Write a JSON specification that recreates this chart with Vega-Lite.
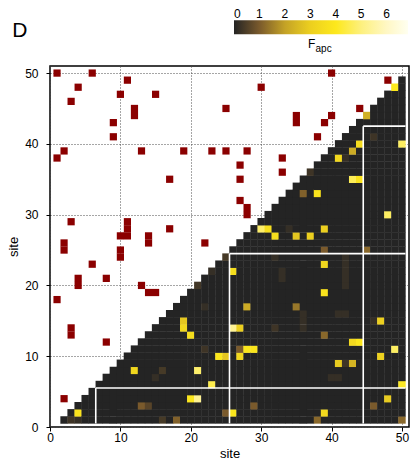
{
  "$schema": "https://vega.github.io/schema/vega-lite/v6.json",
  "autosize": "none",
  "width": 359,
  "height": 361,
  "padding": {"left": 50, "top": 66, "right": 1, "bottom": 37},
  "title": {"text": "D", "anchor": "start", "frame": "group", "fontSize": 21, "fontWeight": "normal", "font": "Liberation Sans", "dx": -37.7, "offset": 0, "dy": 20.5, "color": "black"},
  "config": {
    "view": {"stroke": "black", "strokeWidth": 1.5},
    "font": "Liberation Sans",
    "axis": {"labelFont": "Liberation Sans", "titleFont": "Liberation Sans", "labelColor": "black", "titleColor": "black", "tickColor": "black", "labelFontSize": 12, "titleFontSize": 13, "titleFontWeight": "normal", "domain": false, "grid": true, "gridDash": [1, 2], "gridColor": "#4d4d4d", "gridWidth": 1, "tickSize": 4, "labelFlush": false}
  },
  "layer": [
    {
      "data": {"values": "i,j,v\n2,1,0\n3,1,0.3\n3,2,0\n4,1,0.2\n4,2,3.8\n4,3,0\n5,1,0\n5,2,0\n5,3,0\n5,4,0\n6,1,0\n6,2,0\n6,3,0\n6,4,0\n6,5,0\n7,1,0\n7,2,0\n7,3,0\n7,4,0\n7,5,0\n7,6,0\n8,1,0\n8,2,0\n8,3,0\n8,4,0\n8,5,0\n8,6,0\n8,7,0\n9,1,0\n9,2,0\n9,3,0\n9,4,0\n9,5,0\n9,6,0\n9,7,0\n9,8,0\n10,1,0\n10,2,0\n10,3,0\n10,4,0\n10,5,0\n10,6,0\n10,7,0\n10,8,0\n10,9,0\n11,1,0\n11,2,0\n11,3,0\n11,4,0\n11,5,0\n11,6,0\n11,7,0\n11,8,0\n11,9,0\n11,10,0\n12,1,0\n12,2,0\n12,3,0\n12,4,0\n12,5,0\n12,6,0\n12,7,0\n12,8,3.3\n12,9,0\n12,10,0\n12,11,0\n13,1,0\n13,2,0\n13,3,1.0\n13,4,0\n13,5,0\n13,6,0\n13,7,0\n13,8,0\n13,9,0\n13,10,0\n13,11,0\n13,12,0\n14,1,0\n14,2,0\n14,3,0.6\n14,4,0\n14,5,0\n14,6,0\n14,7,0\n14,8,0\n14,9,0\n14,10,0\n14,11,0\n14,12,0\n14,13,0\n15,1,0\n15,2,0\n15,3,0\n15,4,0\n15,5,0\n15,6,0\n15,7,0.2\n15,8,0\n15,9,0\n15,10,0\n15,11,0\n15,12,0\n15,13,0\n15,14,0\n16,1,0.4\n16,2,0\n16,3,0\n16,4,0\n16,5,0\n16,6,0\n16,7,0\n16,8,0.4\n16,9,0\n16,10,0\n16,11,0\n16,12,0\n16,13,0\n16,14,0\n16,15,0\n17,1,0\n17,2,0\n17,3,0\n17,4,0\n17,5,0\n17,6,0\n17,7,0\n17,8,0\n17,9,0\n17,10,0\n17,11,0\n17,12,0\n17,13,0\n17,14,0\n17,15,0\n17,16,0\n18,1,1.1\n18,2,0\n18,3,0\n18,4,0\n18,5,0\n18,6,0\n18,7,0\n18,8,0\n18,9,0\n18,10,0\n18,11,0\n18,12,0\n18,13,0\n18,14,0\n18,15,0\n18,16,0\n18,17,0\n19,1,0\n19,2,0\n19,3,0\n19,4,0\n19,5,0\n19,6,0\n19,7,0\n19,8,0\n19,9,0\n19,10,0\n19,11,0\n19,12,0\n19,13,0\n19,14,3.3\n19,15,2.8\n19,16,0\n19,17,0\n19,18,0\n20,1,0\n20,2,0\n20,3,0\n20,4,3.9\n20,5,0\n20,6,0\n20,7,0\n20,8,0\n20,9,0\n20,10,0\n20,11,0\n20,12,0\n20,13,3.6\n20,14,0\n20,15,0\n20,16,0\n20,17,0\n20,18,0\n20,19,0\n21,1,0\n21,2,0\n21,3,0\n21,4,5.3\n21,5,0\n21,6,0\n21,7,0\n21,8,4.8\n21,9,0\n21,10,0\n21,11,0\n21,12,0\n21,13,0\n21,14,0\n21,15,0\n21,16,0\n21,17,0\n21,18,0\n21,19,0\n21,20,0.35\n22,1,0\n22,2,0\n22,3,0\n22,4,0\n22,5,0\n22,6,0\n22,7,0\n22,8,0\n22,9,0\n22,10,0\n22,11,0.3\n22,12,0\n22,13,0\n22,14,0\n22,15,0\n22,16,0\n22,17,0.2\n22,18,0\n22,19,0\n22,20,0\n22,21,0\n23,1,0\n23,2,0\n23,3,0\n23,4,0\n23,5,0\n23,6,4.5\n23,7,0\n23,8,0\n23,9,0\n23,10,0\n23,11,0\n23,12,0\n23,13,0\n23,14,0\n23,15,0\n23,16,0\n23,17,0\n23,18,0\n23,19,0\n23,20,0\n23,21,0\n23,22,0.2\n24,1,0\n24,2,0\n24,3,0\n24,4,0\n24,5,0\n24,6,0\n24,7,0\n24,8,0\n24,9,0\n24,10,3.9\n24,11,0\n24,12,0\n24,13,0\n24,14,0\n24,15,0\n24,16,0\n24,17,0\n24,18,0\n24,19,0\n24,20,0\n24,21,0\n24,22,0\n24,23,0\n25,1,0\n25,2,1.0\n25,3,0\n25,4,0\n25,5,0\n25,6,0\n25,7,0\n25,8,0\n25,9,0\n25,10,2.8\n25,11,0\n25,12,0\n25,13,0\n25,14,0\n25,15,0\n25,16,0\n25,17,0\n25,18,0\n25,19,0\n25,20,0\n25,21,0\n25,22,0\n25,23,0\n25,24,0.4\n26,1,0\n26,2,3.9\n26,3,0\n26,4,0\n26,5,0\n26,6,0\n26,7,0\n26,8,0\n26,9,0\n26,10,0\n26,11,0\n26,12,0\n26,13,0\n26,14,5.3\n26,15,0\n26,16,0\n26,17,0\n26,18,0\n26,19,0\n26,20,0\n26,21,0\n26,22,3.6\n26,23,0\n26,24,0\n26,25,0\n27,1,0\n27,2,0\n27,3,0\n27,4,0\n27,5,0\n27,6,0\n27,7,0\n27,8,0\n27,9,0\n27,10,3.4\n27,11,1.0\n27,12,0\n27,13,0\n27,14,3.0\n27,15,0\n27,16,0\n27,17,0\n27,18,0\n27,19,0\n27,20,0\n27,21,0\n27,22,0\n27,23,0\n27,24,0\n27,25,0\n27,26,0\n28,1,0\n28,2,0\n28,3,0\n28,4,0\n28,5,0\n28,6,0\n28,7,0\n28,8,0\n28,9,0\n28,10,0\n28,11,3.9\n28,12,0\n28,13,0\n28,14,0\n28,15,0\n28,16,0\n28,17,2.2\n28,18,0\n28,19,0\n28,20,0\n28,21,0\n28,22,0\n28,23,0\n28,24,0\n28,25,0\n28,26,0\n28,27,0\n29,1,0\n29,2,0\n29,3,1.0\n29,4,0\n29,5,0\n29,6,0\n29,7,0\n29,8,0\n29,9,0\n29,10,0\n29,11,3.9\n29,12,0\n29,13,0\n29,14,0\n29,15,0\n29,16,0\n29,17,0\n29,18,0\n29,19,0\n29,20,0\n29,21,0\n29,22,0\n29,23,0\n29,24,0\n29,25,0\n29,26,0\n29,27,0\n29,28,0\n30,1,0\n30,2,0\n30,3,0\n30,4,0\n30,5,0\n30,6,0\n30,7,0\n30,8,0\n30,9,0\n30,10,0\n30,11,0\n30,12,0\n30,13,0\n30,14,0\n30,15,0\n30,16,0\n30,17,0\n30,18,0\n30,19,0\n30,20,0\n30,21,0\n30,22,0\n30,23,0\n30,24,0\n30,25,0\n30,26,0\n30,27,0\n30,28,4.8\n30,29,0\n31,1,0\n31,2,0\n31,3,0\n31,4,0\n31,5,0\n31,6,0\n31,7,0\n31,8,0\n31,9,0\n31,10,0\n31,11,0\n31,12,0\n31,13,0\n31,14,0\n31,15,0\n31,16,0\n31,17,0\n31,18,0\n31,19,0\n31,20,0\n31,21,0\n31,22,0\n31,23,0\n31,24,0\n31,25,0\n31,26,0\n31,27,0\n31,28,3.6\n31,29,0\n31,30,0\n32,1,0\n32,2,0\n32,3,0\n32,4,0\n32,5,0\n32,6,0\n32,7,0\n32,8,0\n32,9,0\n32,10,0\n32,11,0\n32,12,0\n32,13,0\n32,14,0.3\n32,15,0\n32,16,0\n32,17,0\n32,18,0\n32,19,0\n32,20,0\n32,21,0\n32,22,0\n32,23,0\n32,24,0.2\n32,25,0\n32,26,0\n32,27,3.6\n32,28,0\n32,29,0\n32,30,0\n32,31,0\n33,1,0\n33,2,0\n33,3,0\n33,4,0\n33,5,0\n33,6,0\n33,7,0\n33,8,0\n33,9,0\n33,10,0\n33,11,0\n33,12,0\n33,13,0\n33,14,0\n33,15,0\n33,16,0\n33,17,0\n33,18,0\n33,19,0\n33,20,0\n33,21,0.2\n33,22,0.2\n33,23,0\n33,24,0\n33,25,0\n33,26,0\n33,27,0\n33,28,0\n33,29,0\n33,30,0\n33,31,0\n33,32,0\n34,1,0\n34,2,0\n34,3,0\n34,4,0\n34,5,0\n34,6,0\n34,7,0\n34,8,0\n34,9,0\n34,10,0\n34,11,0\n34,12,0\n34,13,0\n34,14,0\n34,15,0\n34,16,0\n34,17,0\n34,18,0\n34,19,0\n34,20,0\n34,21,0\n34,22,0\n34,23,0\n34,24,0\n34,25,0\n34,26,0\n34,27,0\n34,28,0.2\n34,29,0\n34,30,0\n34,31,0\n34,32,0\n34,33,0\n35,1,0\n35,2,0\n35,3,0\n35,4,0\n35,5,0\n35,6,0\n35,7,0\n35,8,0\n35,9,0\n35,10,0\n35,11,0\n35,12,0\n35,13,0\n35,14,0\n35,15,0\n35,16,0\n35,17,1.4\n35,18,0\n35,19,0\n35,20,0\n35,21,0\n35,22,0\n35,23,0\n35,24,0\n35,25,0\n35,26,0\n35,27,2.8\n35,28,0\n35,29,0\n35,30,0\n35,31,0\n35,32,0\n35,33,0\n35,34,0\n36,1,0\n36,2,0\n36,3,0\n36,4,0\n36,5,0\n36,6,0\n36,7,0\n36,8,0\n36,9,0\n36,10,0\n36,11,0\n36,12,0\n36,13,0\n36,14,0.2\n36,15,0.2\n36,16,0.2\n36,17,0\n36,18,0\n36,19,0\n36,20,0\n36,21,0\n36,22,0\n36,23,0\n36,24,0\n36,25,0\n36,26,0\n36,27,0\n36,28,0\n36,29,0\n36,30,0\n36,31,0\n36,32,0\n36,33,1.1\n36,34,0\n36,35,0\n37,1,0\n37,2,0\n37,3,0\n37,4,0\n37,5,0\n37,6,0\n37,7,0\n37,8,0\n37,9,0\n37,10,0\n37,11,0\n37,12,0\n37,13,0\n37,14,0\n37,15,0\n37,16,0\n37,17,0\n37,18,0\n37,19,0\n37,20,0\n37,21,0\n37,22,0\n37,23,0\n37,24,0\n37,25,0\n37,26,0\n37,27,3.0\n37,28,0\n37,29,0\n37,30,0\n37,31,0\n37,32,0\n37,33,0\n37,34,0\n37,35,0\n37,36,0.3\n38,1,1.2\n38,2,0\n38,3,0\n38,4,0\n38,5,0\n38,6,0\n38,7,0\n38,8,0\n38,9,0\n38,10,0\n38,11,0\n38,12,0\n38,13,0\n38,14,0\n38,15,0\n38,16,0\n38,17,0\n38,18,0\n38,19,0\n38,20,0\n38,21,0\n38,22,0\n38,23,0\n38,24,0\n38,25,0\n38,26,0\n38,27,0\n38,28,0\n38,29,0\n38,30,0\n38,31,0\n38,32,0\n38,33,3.8\n38,34,0\n38,35,0\n38,36,0\n38,37,0\n39,1,0\n39,2,3.4\n39,3,0\n39,4,0\n39,5,0\n39,6,0\n39,7,0\n39,8,0\n39,9,0\n39,10,0\n39,11,0\n39,12,0\n39,13,1.2\n39,14,0\n39,15,0\n39,16,0\n39,17,0\n39,18,0\n39,19,3.8\n39,20,0\n39,21,0\n39,22,0\n39,23,3.3\n39,24,0\n39,25,1.0\n39,26,0\n39,27,0\n39,28,3.0\n39,29,0\n39,30,0\n39,31,0\n39,32,0\n39,33,0\n39,34,0\n39,35,0\n39,36,0\n39,37,0\n39,38,0\n40,1,0\n40,2,0\n40,3,0\n40,4,0\n40,5,0\n40,6,0\n40,7,0.2\n40,8,0\n40,9,0\n40,10,0\n40,11,0\n40,12,0\n40,13,0\n40,14,0\n40,15,0\n40,16,0\n40,17,0\n40,18,0\n40,19,0\n40,20,0\n40,21,0\n40,22,0\n40,23,0\n40,24,0\n40,25,0\n40,26,0\n40,27,0\n40,28,0\n40,29,0\n40,30,0\n40,31,0\n40,32,0\n40,33,0\n40,34,0\n40,35,0\n40,36,0\n40,37,0\n40,38,0\n40,39,0\n41,1,0\n41,2,0\n41,3,0\n41,4,0\n41,5,0\n41,6,0\n41,7,0.2\n41,8,0\n41,9,2.9\n41,10,0\n41,11,0\n41,12,0\n41,13,0\n41,14,0\n41,15,0\n41,16,0.2\n41,17,0\n41,18,0\n41,19,0\n41,20,0\n41,21,0\n41,22,0\n41,23,0\n41,24,0\n41,25,0\n41,26,0\n41,27,0\n41,28,0\n41,29,0\n41,30,0\n41,31,0\n41,32,0\n41,33,0\n41,34,0\n41,35,0\n41,36,0\n41,37,0\n41,38,3.4\n41,39,0\n41,40,0\n42,1,0\n42,2,0\n42,3,0\n42,4,0\n42,5,0\n42,6,0\n42,7,0\n42,8,0\n42,9,0.3\n42,10,0\n42,11,0\n42,12,0\n42,13,0\n42,14,0\n42,15,0\n42,16,0.2\n42,17,0\n42,18,0\n42,19,0\n42,20,0.2\n42,21,0.2\n42,22,0.2\n42,23,0.2\n42,24,0.2\n42,25,0\n42,26,0\n42,27,0\n42,28,0\n42,29,0\n42,30,0\n42,31,0\n42,32,0\n42,33,0\n42,34,0\n42,35,0\n42,36,0\n42,37,0\n42,38,0.2\n42,39,0\n42,40,0\n42,41,0\n43,1,0\n43,2,0\n43,3,0\n43,4,0\n43,5,0\n43,6,0\n43,7,0\n43,8,0\n43,9,2.4\n43,10,0\n43,11,0\n43,12,3.4\n43,13,0\n43,14,0\n43,15,0\n43,16,0\n43,17,0\n43,18,0\n43,19,0\n43,20,0\n43,21,0\n43,22,0\n43,23,0\n43,24,0\n43,25,0\n43,26,0\n43,27,0\n43,28,0\n43,29,0\n43,30,0\n43,31,0\n43,32,0\n43,33,0\n43,34,0\n43,35,4.6\n43,36,0\n43,37,0\n43,38,0\n43,39,2.2\n43,40,0\n43,41,0\n43,42,0\n44,1,0\n44,2,0\n44,3,0\n44,4,0\n44,5,0\n44,6,0\n44,7,0\n44,8,0\n44,9,0\n44,10,0\n44,11,0\n44,12,3.9\n44,13,0\n44,14,0\n44,15,0\n44,16,0\n44,17,0\n44,18,0\n44,19,0\n44,20,0\n44,21,0\n44,22,0\n44,23,0\n44,24,0\n44,25,0\n44,26,0\n44,27,0\n44,28,0\n44,29,0\n44,30,0\n44,31,0\n44,32,0\n44,33,0\n44,34,0\n44,35,3.8\n44,36,0\n44,37,0\n44,38,0\n44,39,0\n44,40,3.5\n44,41,0\n44,42,0\n44,43,0\n45,1,0\n45,2,0\n45,3,0\n45,4,0\n45,5,0\n45,6,0\n45,7,0\n45,8,0\n45,9,0\n45,10,0\n45,11,0\n45,12,0\n45,13,0\n45,14,0\n45,15,0\n45,16,0\n45,17,0\n45,18,0\n45,19,0\n45,20,0\n45,21,0\n45,22,0\n45,23,0\n45,24,0\n45,25,1.2\n45,26,0\n45,27,0\n45,28,0\n45,29,0\n45,30,0\n45,31,0\n45,32,0\n45,33,0\n45,34,0\n45,35,0\n45,36,0\n45,37,0\n45,38,0\n45,39,0\n45,40,0\n45,41,0\n45,42,0\n45,43,0\n45,44,2.3\n46,1,0\n46,2,0\n46,3,1.0\n46,4,0\n46,5,0\n46,6,0\n46,7,0\n46,8,0\n46,9,0\n46,10,0\n46,11,0\n46,12,0\n46,13,0\n46,14,0\n46,15,0.2\n46,16,0\n46,17,0\n46,18,0\n46,19,0\n46,20,0\n46,21,0\n46,22,0\n46,23,0\n46,24,0\n46,25,0\n46,26,0\n46,27,0\n46,28,0\n46,29,0\n46,30,0\n46,31,0\n46,32,0\n46,33,0\n46,34,0\n46,35,0\n46,36,0\n46,37,0\n46,38,0\n46,39,0\n46,40,0\n46,41,0.3\n46,42,0\n46,43,0\n46,44,0\n46,45,0\n47,1,0\n47,2,0\n47,3,0\n47,4,0\n47,5,0\n47,6,0\n47,7,0\n47,8,0\n47,9,0\n47,10,3.1\n47,11,0\n47,12,0\n47,13,0\n47,14,0\n47,15,3.0\n47,16,0\n47,17,0\n47,18,0\n47,19,0\n47,20,0\n47,21,0\n47,22,0\n47,23,0\n47,24,0\n47,25,0\n47,26,0\n47,27,0\n47,28,0\n47,29,0\n47,30,0\n47,31,0\n47,32,0\n47,33,0\n47,34,0\n47,35,0\n47,36,0\n47,37,0\n47,38,0\n47,39,0\n47,40,0\n47,41,0\n47,42,0\n47,43,0\n47,44,0\n47,45,0\n47,46,0\n48,1,0\n48,2,0\n48,3,0\n48,4,2.9\n48,5,0\n48,6,0\n48,7,0\n48,8,0\n48,9,0\n48,10,0\n48,11,0\n48,12,0\n48,13,0\n48,14,0\n48,15,0\n48,16,0\n48,17,0\n48,18,0\n48,19,0\n48,20,0\n48,21,0\n48,22,0\n48,23,0\n48,24,0\n48,25,0\n48,26,0\n48,27,0\n48,28,0\n48,29,0\n48,30,4.7\n48,31,0\n48,32,0\n48,33,0\n48,34,0\n48,35,0\n48,36,0\n48,37,0\n48,38,0\n48,39,0\n48,40,0\n48,41,0\n48,42,0\n48,43,0\n48,44,0\n48,45,0\n48,46,0\n48,47,0\n49,1,0\n49,2,0\n49,3,0\n49,4,0\n49,5,0\n49,6,0\n49,7,0\n49,8,0\n49,9,0\n49,10,0\n49,11,4.7\n49,12,0\n49,13,0\n49,14,0\n49,15,0\n49,16,0\n49,17,0\n49,18,0\n49,19,0\n49,20,0\n49,21,0\n49,22,0\n49,23,0\n49,24,0\n49,25,0\n49,26,0\n49,27,0\n49,28,0\n49,29,0\n49,30,0\n49,31,0\n49,32,0\n49,33,0\n49,34,0\n49,35,0\n49,36,0\n49,37,0\n49,38,0\n49,39,0\n49,40,0\n49,41,0\n49,42,0\n49,43,0\n49,44,0\n49,45,0\n49,46,0\n49,47,0\n49,48,4.0\n50,1,1.2\n50,2,0\n50,3,0\n50,4,0\n50,5,0\n50,6,4.1\n50,7,0\n50,8,0\n50,9,0\n50,10,0\n50,11,0\n50,12,0\n50,13,0\n50,14,0\n50,15,0\n50,16,0\n50,17,0\n50,18,0\n50,19,0\n50,20,0\n50,21,0\n50,22,0\n50,23,0\n50,24,0\n50,25,0\n50,26,0\n50,27,0\n50,28,0\n50,29,0\n50,30,0\n50,31,0\n50,32,0\n50,33,0\n50,34,0\n50,35,0\n50,36,0\n50,37,0\n50,38,0\n50,39,0\n50,40,4.7\n50,41,0\n50,42,0\n50,43,0\n50,44,0\n50,45,0\n50,46,0\n50,47,0\n50,48,0\n50,49,0", "format": {"type": "csv", "parse": {"i": "number", "j": "number", "v": "number"}}},
      "mark": {"type": "rect", "xOffset": -3.72, "x2Offset": 3.72, "yOffset": 3.74, "y2Offset": -3.74},
      "encoding": {
        "x": {"field": "i", "type": "quantitative", "scale": {"domain": [0, 51], "nice": false, "zero": false}, "axis": {"values": [0, 10, 20, 30, 40, 50], "title": "site", "labelPadding": 1, "titlePadding": 4}},
        "x2": {"field": "i"},
        "y": {"field": "j", "type": "quantitative", "scale": {"domain": [0, 51], "nice": false, "zero": false}, "axis": {"values": [0, 10, 20, 30, 40, 50], "title": "site", "labelPadding": 8, "titlePadding": 4}},
        "y2": {"field": "j"},
        "color": {"field": "v", "type": "quantitative",
          "scale": {"domain": [0, 1, 2, 3, 4, 5, 6, 6.84], "range": ["#242424", "#7a5a2c", "#c4a226", "#eccf1f", "#fde81c", "#fdf07e", "#fff7c4", "#fffff0"], "interpolate": "rgb"},
          "legend": {"orient": "none", "legendX": 184, "legendY": -45.7, "direction": "horizontal", "gradientLength": 174, "gradientThickness": 14, "gradientStrokeWidth": 0, "values": [0, 1, 2, 3, 4, 5, 6], "labelOffset": -25, "labelFontSize": 12, "labelFont": "Liberation Sans", "labelColor": "black", "title": null, "padding": 0}}
      }
    },
    {
      "data": {"values": [
        {"i": 1, "j": 50}, {"i": 6, "j": 50}, {"i": 11, "j": 49}, {"i": 4, "j": 48}, {"i": 10, "j": 47}, {"i": 15, "j": 47}, {"i": 3, "j": 46}, {"i": 12, "j": 45}, {"i": 12, "j": 44}, {"i": 9, "j": 43}, {"i": 9, "j": 41}, {"i": 2, "j": 39}, {"i": 1, "j": 38}, {"i": 13, "j": 39}, {"i": 17, "j": 35},
        {"i": 30, "j": 48}, {"i": 25, "j": 45}, {"i": 19, "j": 39}, {"i": 23, "j": 39}, {"i": 25, "j": 39}, {"i": 28, "j": 39}, {"i": 33, "j": 38}, {"i": 27, "j": 37}, {"i": 33, "j": 36}, {"i": 27, "j": 35},
        {"i": 40, "j": 50}, {"i": 48, "j": 49}, {"i": 44, "j": 45}, {"i": 35, "j": 44}, {"i": 35, "j": 43}, {"i": 40, "j": 44}, {"i": 39, "j": 43}, {"i": 38, "j": 41},
        {"i": 3, "j": 29}, {"i": 11, "j": 29}, {"i": 11, "j": 28}, {"i": 11, "j": 27}, {"i": 10, "j": 27}, {"i": 17, "j": 28}, {"i": 2, "j": 26}, {"i": 2, "j": 25}, {"i": 14, "j": 27}, {"i": 14, "j": 26}, {"i": 10, "j": 25}, {"i": 10, "j": 24}, {"i": 6, "j": 23}, {"i": 4, "j": 21}, {"i": 4, "j": 20}, {"i": 8, "j": 21}, {"i": 13, "j": 20}, {"i": 14, "j": 19}, {"i": 15, "j": 19}, {"i": 1, "j": 18},
        {"i": 27, "j": 32}, {"i": 28, "j": 31}, {"i": 28, "j": 30}, {"i": 22, "j": 26}, {"i": 3, "j": 14}, {"i": 3, "j": 13}, {"i": 8, "j": 12}, {"i": 2, "j": 4}
      ]},
      "mark": {"type": "rect", "color": "#8b0000", "xOffset": -3.6, "x2Offset": 3.6, "yOffset": 3.62, "y2Offset": -3.62},
      "encoding": {
        "x": {"field": "i", "type": "quantitative"},
        "x2": {"field": "i"},
        "y": {"field": "j", "type": "quantitative"},
        "y2": {"field": "j"}
      }
    },
    {
      "data": {"values": [
        {"x": 6.5, "x2": 6.5, "y": 0.5, "y2": 5.5},
        {"x": 25.5, "x2": 25.5, "y": 0.5, "y2": 24.5},
        {"x": 44.5, "x2": 44.5, "y": 0.5, "y2": 42.5},
        {"x": 6.5, "x2": 50.5, "y": 5.5, "y2": 5.5},
        {"x": 25.5, "x2": 50.5, "y": 24.5, "y2": 24.5},
        {"x": 44.5, "x2": 50.5, "y": 42.5, "y2": 42.5}
      ]},
      "mark": {"type": "rule", "color": "white", "strokeWidth": 1.6},
      "encoding": {
        "x": {"field": "x", "type": "quantitative"},
        "x2": {"field": "x2"},
        "y": {"field": "y", "type": "quantitative"},
        "y2": {"field": "y2"}
      }
    },
    {
      "data": {"values": [{"label": "F"}]},
      "mark": {"type": "text", "align": "left", "baseline": "alphabetic", "fontSize": 12, "font": "Liberation Sans", "color": "black"},
      "encoding": {
        "text": {"field": "label"},
        "x": {"datum": 36.65},
        "y": {"datum": 53.55}
      }
    },
    {
      "data": {"values": [{"label": "apc"}]},
      "mark": {"type": "text", "align": "left", "baseline": "alphabetic", "fontSize": 10, "font": "Liberation Sans", "color": "black"},
      "encoding": {
        "text": {"field": "label"},
        "x": {"datum": 37.72},
        "y": {"datum": 53.02}
      }
    }
  ]
}
